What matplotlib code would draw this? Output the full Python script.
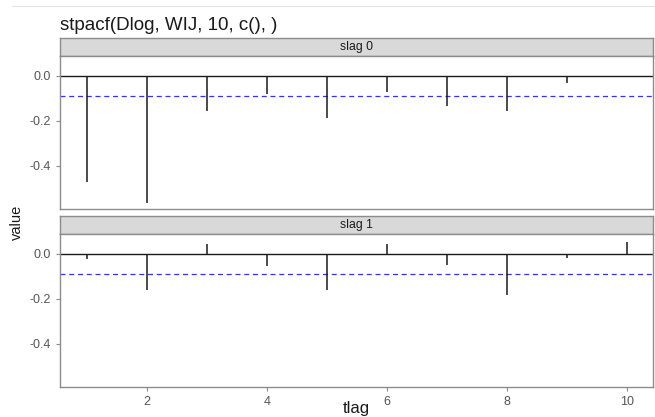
import matplotlib
matplotlib.use("Agg")
import matplotlib.pyplot as plt
from matplotlib.lines import Line2D

tlag = [1, 2, 3, 4, 5, 6, 7, 8, 9, 10]
slag0 = [-0.472, -0.565, -0.156, -0.084, -0.190, -0.072, -0.136, -0.158, -0.032, -0.004]
slag1 = [-0.022, -0.160, 0.044, -0.055, -0.160, 0.041, -0.049, -0.185, -0.019, 0.051]
panels = ["slag 0", "slag 1"]
bound = -0.092
yticks = [0.0, -0.2, -0.4]
xticks = [2, 4, 6, 8, 10]

W, H = 655, 417
fig = plt.figure(figsize=(W / 100, H / 100), dpi=100)

def px(x0, y0, x1, y1):
    return [x0 / W, 1 - y1 / H, (x1 - x0) / W, (y1 - y0) / H]

fig.add_artist(Line2D([12 / W, 1], [1 - 6 / H, 1 - 6 / H], color="#e3e3e3", lw=0.8))
fig.text(60 / W, 1 - 25 / H, "stpacf(Dlog, WIJ, 10, c(), )", fontsize=13.5,
         color="#1a1a1a", va="center", ha="left", family="Liberation Sans")

layout = [(38, 56, 209), (216, 234, 387)]
edge = "#8c8c8c"
for (st, top, bot), name, vals in zip(layout, panels, [slag0, slag1]):
    sax = fig.add_axes(px(60, st, 653, top))
    sax.set_xticks([]); sax.set_yticks([])
    sax.set_facecolor("#d9d9d9")
    for s in sax.spines.values():
        s.set_color(edge); s.set_linewidth(1.0)
    sax.text(0.5, 0.5, name, ha="center", va="center", fontsize=8.8,
             color="#1a1a1a", transform=sax.transAxes, family="Liberation Sans")
    ax = fig.add_axes(px(60, top, 653, bot))
    ax.set_xlim(0.55, 10.44)
    ax.set_ylim(-0.593, 0.087)
    ax.axhline(0, color="#1a1a1a", lw=1.0)
    ax.axhline(bound, color="#3333ee", lw=0.9, ls=(0, (4, 3)))
    ax.vlines(tlag, 0, vals, color="#1a1a1a", lw=1.1)
    ax.set_yticks(yticks)
    ax.set_yticklabels([f"{v:.1f}" for v in yticks])
    ax.set_xticks(xticks)
    for s in ax.spines.values():
        s.set_color(edge); s.set_linewidth(1.0)
    ax.tick_params(colors=edge, labelcolor="#555555", labelsize=9, length=3, width=0.8)
    for lab in ax.get_xticklabels() + ax.get_yticklabels():
        lab.set_family("Liberation Sans")
    if name == panels[0]:
        ax.set_xticklabels([])
        ax.tick_params(axis="x", length=0)

fig.text(17 / W, 1 - 222 / H, "value", rotation=90, ha="center", va="center",
         fontsize=10.5, color="#1a1a1a", family="Liberation Sans")
fig.text(356 / W, 1 - 409 / H, "tlag", ha="center", va="center",
         fontsize=12, color="#1a1a1a", family="Liberation Sans")

fig.savefig("out.png", dpi=100)
